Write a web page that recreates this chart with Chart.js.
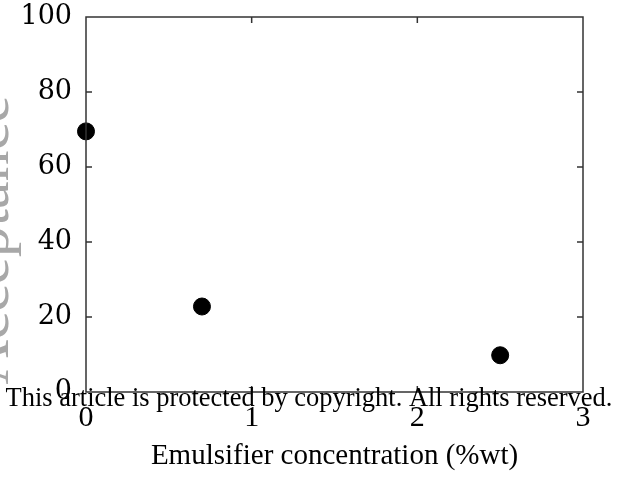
<!DOCTYPE html>
<html><head><meta charset="utf-8">
<script src="https://cdn.jsdelivr.net/npm/chart.js@4/dist/chart.umd.min.js"></script>
<style>html,body{margin:0;padding:0;background:#fff}#wrap{width:619px;height:480px;position:relative}</style>
</head><body><div id="wrap"><canvas id="c" width="619" height="480"></canvas></div>
<script>
const emulsifierConc = [0, 0.7, 2.5];
const acceptance = [69.5, 22.8, 9.8];
const xTicks = [0, 1, 2, 3];
const yTicks = [0, 20, 40, 60, 80, 100];
const xTitle = "Emulsifier concentration (%wt)";
const yTitle = "Acceptance";
const watermark = "This article is protected by copyright. All rights reserved.";

const innerTicks = {
  id: 'innerTicks',
  afterDatasetsDraw(chart) {
    const ctx = chart.ctx, a = chart.chartArea, xs = chart.scales.x, ys = chart.scales.y;
    ctx.save();
    ctx.strokeStyle = '#333'; ctx.lineWidth = 1.5;
    const L = 6;
    xTicks.slice(1, -1).forEach(v => {
      const px = xs.getPixelForValue(v);
      ctx.beginPath(); ctx.moveTo(px, a.bottom); ctx.lineTo(px, a.bottom - L);
      ctx.moveTo(px, a.top); ctx.lineTo(px, a.top + L); ctx.stroke();
    });
    yTicks.slice(1, -1).forEach(v => {
      const py = ys.getPixelForValue(v);
      ctx.beginPath(); ctx.moveTo(a.left, py); ctx.lineTo(a.left + L, py);
      ctx.moveTo(a.right, py); ctx.lineTo(a.right - L, py); ctx.stroke();
    });
    ctx.strokeRect(a.left, a.top, a.right - a.left, a.bottom - a.top);
    ctx.restore();
  },
  afterDraw(chart) {
    const ctx = chart.ctx;
    ctx.save();
    // faded y-axis title, clipped at left edge
    ctx.translate(8, 240);
    ctx.rotate(-Math.PI / 2);
    ctx.fillStyle = '#a8a8a8';
    ctx.font = '62px "Liberation Serif"';
    ctx.textAlign = 'center'; ctx.textBaseline = 'alphabetic';
    ctx.fillText(yTitle, 0, 0);
    ctx.restore();
    ctx.save();
    ctx.fillStyle = '#000';
    ctx.font = '26px "Liberation Serif"';
    const w = ctx.measureText(watermark).width;
    const size = 26 * 607 / w;
    ctx.font = size.toFixed(2) + 'px "Liberation Serif"';
    ctx.textAlign = 'center'; ctx.textBaseline = 'middle';
    ctx.fillText(watermark, 309, 399);
    ctx.restore();
  }
};

new Chart(document.getElementById('c'), {
  type: 'scatter',
  data: {
    datasets: [{
      data: emulsifierConc.map((x, i) => ({ x: x, y: acceptance[i] })),
      backgroundColor: '#000', borderColor: '#000',
      pointRadius: 8.5, pointHoverRadius: 8.5, clip: false
    }]
  },
  options: {
    responsive: false, animation: false,
    layout: { padding: { left: 0, right: 36, top: 17, bottom: 0 } },
    plugins: { legend: { display: false }, tooltip: { enabled: false } },
    scales: {
      x: {
        type: 'linear', min: 0, max: 3,
        afterBuildTicks(s) { s.ticks = xTicks.map(v => ({ value: v })); },
        afterFit(s) { s.height = 88; s.paddingLeft = 0; s.paddingRight = 0; },
        grid: { display: false, drawTicks: false },
        border: { display: false },
        ticks: { color: '#000', padding: 8, font: { family: 'Liberation Serif', size: 30 } },
        title: { display: true, text: xTitle, color: '#000', padding: { top: 0, bottom: 6 }, font: { family: 'Liberation Serif', size: 29 } }
      },
      y: {
        type: 'linear', min: 0, max: 100,
        afterBuildTicks(s) { s.ticks = yTicks.map(v => ({ value: v })); },
        afterFit(s) { s.width = 86; s.paddingTop = 0; s.paddingBottom = 0; },
        grid: { display: false, drawTicks: false },
        border: { display: false },
        ticks: { color: '#000', padding: 14, font: { family: 'DejaVu Serif', size: 27 } }
      }
    }
  },
  plugins: [innerTicks]
});
</script></body></html>
